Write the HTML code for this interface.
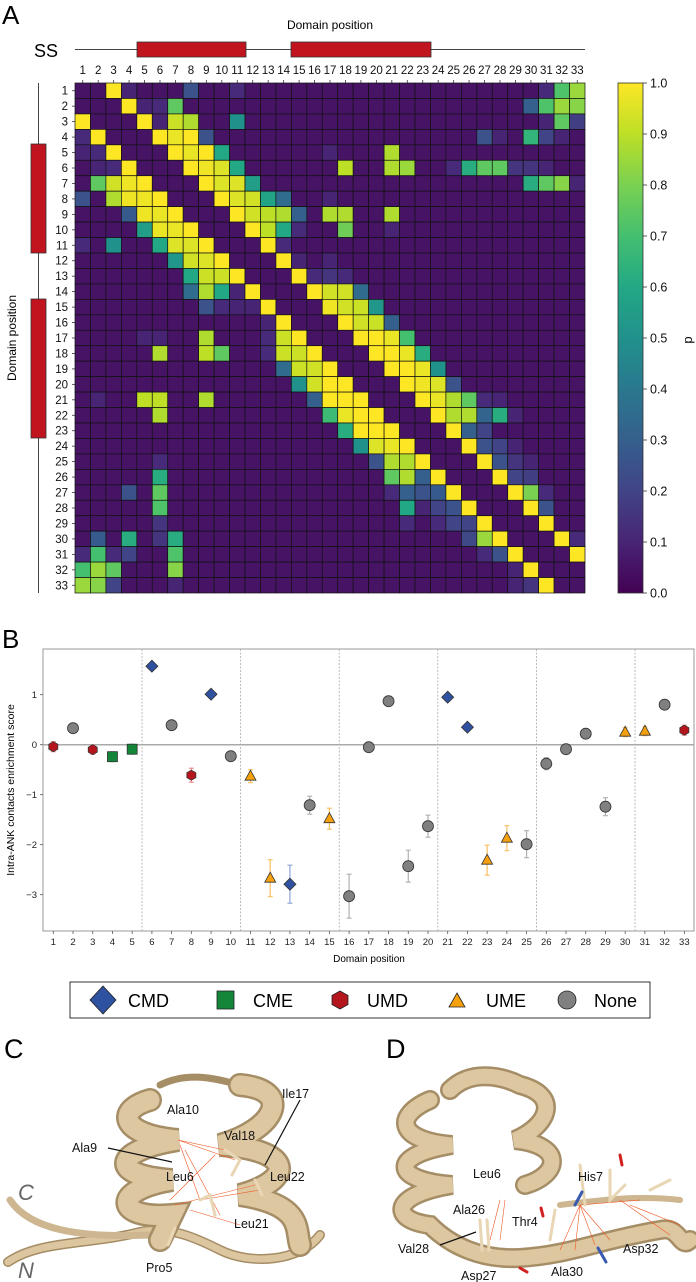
<!DOCTYPE html>
<html><head><meta charset="utf-8"><style>
html,body{margin:0;padding:0;background:#fff;}
svg{display:block;font-family:"Liberation Sans","DejaVu Sans",sans-serif;}
</style></head><body>
<svg id="fig" width="696" height="1282" viewBox="0 0 696 1282" xmlns="http://www.w3.org/2000/svg">
<text x="2" y="24" font-size="26">A</text>
<text x="330" y="29" font-size="12" text-anchor="middle">Domain position</text>
<text x="34" y="57" font-size="18">SS</text>
<g>
<line x1="75" y1="49.5" x2="585" y2="49.5" stroke="#444" stroke-width="1"/>
<rect x="137" y="42" width="109" height="15" fill="#c0141e" stroke="#333" stroke-width="0.8"/>
<rect x="291" y="42" width="140" height="15" fill="#c0141e" stroke="#333" stroke-width="0.8"/>
</g>
<g>
<line x1="38.5" y1="83" x2="38.5" y2="593" stroke="#444" stroke-width="1"/>
<rect x="31" y="144" width="15" height="109" fill="#c0141e" stroke="#333" stroke-width="0.8"/>
<rect x="31" y="299" width="15" height="139" fill="#c0141e" stroke="#333" stroke-width="0.8"/>
</g>
<text transform="translate(16,338) rotate(-90)" font-size="12" text-anchor="middle">Domain position</text>
<g id="heat"></g>
<g id="hticks"></g>
<defs><linearGradient id="vir" x1="0" y1="1" x2="0" y2="0"></linearGradient></defs>
<rect x="618" y="83" width="25" height="510" fill="url(#vir)" stroke="#333" stroke-width="0.8"/>
<g id="cbticks"></g>
<text transform="translate(692,340) rotate(-90)" font-size="13" text-anchor="middle">p</text>

<text x="2" y="648" font-size="26">B</text>
<g id="scatter"></g>
<text transform="translate(14,790) rotate(-90)" font-size="10.5" text-anchor="middle">Intra-ANK contacts enrichment score</text>
<text x="369" y="962" font-size="10" text-anchor="middle">Domain position</text>

<g>
<rect x="70" y="982" width="580" height="36" fill="#fff" stroke="#333" stroke-width="1"/>
<g><path d="M103 986 L116 1000 L103 1014 L90 1000 Z" fill="#2f52a0" stroke="#222" stroke-width="0.8"/><text x="128" y="1007" font-size="18">CMD</text></g>
<g><rect x="217" y="991" width="17" height="18" fill="#13863a" stroke="#222" stroke-width="0.8"/><text x="253" y="1007" font-size="18">CME</text></g>
<g><path d="M340 991 L348 995.5 L348 1004.5 L340 1009 L332 1004.5 L332 995.5 Z" fill="#b5161e" stroke="#222" stroke-width="0.8"/><text x="367" y="1007" font-size="18">UMD</text></g>
<g><path d="M457 993 L465 1007 L449 1007 Z" fill="#f5a10d" stroke="#222" stroke-width="0.8"/><text x="486" y="1007" font-size="18">UME</text></g>
<g><circle cx="567" cy="1000" r="9" fill="#808080" stroke="#222" stroke-width="0.8"/><text x="594" y="1007" font-size="18">None</text></g>
</g>

<text x="4" y="1058" font-size="27">C</text>
<text x="386" y="1058" font-size="27">D</text>
<g fill="none" stroke-linecap="round">
<path d="M8 1262 C40 1240 90 1245 140 1232 C170 1225 200 1240 220 1250 C250 1265 300 1262 320 1235" stroke="#a58d66" stroke-width="10"/>
<path d="M8 1262 C40 1240 90 1245 140 1232 C170 1225 200 1240 220 1250 C250 1265 300 1262 320 1235" stroke="#dcc6a0" stroke-width="7"/>
<path d="M10 1200 C30 1230 80 1238 150 1235" stroke="#cdb690" stroke-width="7"/>
<path d="M150 1100 C115 1110 120 1135 178 1140 C115 1150 105 1175 172 1180 C110 1190 115 1220 172 1215 L160 1240" stroke="#a58d66" stroke-width="24"/>
<path d="M150 1100 C115 1110 120 1135 178 1140 C115 1150 105 1175 172 1180 C110 1190 115 1220 172 1215 L160 1240" stroke="#ddc7a1" stroke-width="19"/>
<path d="M160 1085 C190 1070 220 1080 240 1085" stroke="#a58d66" stroke-width="7"/>
<path d="M240 1085 C295 1090 275 1130 220 1145 C295 1150 295 1180 240 1195 C305 1205 295 1230 300 1245" stroke="#a58d66" stroke-width="24"/>
<path d="M240 1085 C295 1090 275 1130 220 1145 C295 1150 295 1180 240 1195 C305 1205 295 1230 300 1245" stroke="#ddc7a1" stroke-width="19"/>
<g stroke="#f05a28" stroke-width="0.6"><path d="M178 1140 L225 1150 M178 1140 L235 1160 M180 1145 L200 1200 M200 1200 L260 1190 M190 1210 L240 1225 M170 1200 L215 1155 M185 1150 L220 1215 M175 1205 L255 1185"/></g>
<g stroke="#e8d6b4" stroke-width="3"><path d="M225 1150 L240 1160 L232 1175 M200 1200 L210 1195 L215 1215 M255 1180 L262 1195 M168 1245 L175 1228"/></g>
</g>
<g font-size="12.5" fill="#111">
<text x="167" y="1114">Ala10</text>
<text x="282" y="1098">Ile17</text>
<text x="224" y="1140">Val18</text>
<text x="72" y="1152">Ala9</text>
<text x="166" y="1181">Leu6</text>
<text x="270" y="1181">Leu22</text>
<text x="234" y="1228">Leu21</text>
<text x="146" y="1272">Pro5</text>
<text x="18" y="1200" font-size="22" font-style="italic" fill="#666">C</text>
<text x="18" y="1278" font-size="22" font-style="italic" fill="#666">N</text>
<path d="M108 1148 L172 1162 M300 1100 L265 1165" stroke="#111" stroke-width="1.2"/>
</g>
<g fill="none" stroke-linecap="round">
<path d="M430 1100 C395 1115 395 1140 452 1145 C390 1155 390 1180 452 1185 C390 1195 390 1220 430 1225 C450 1245 480 1260 520 1258 C570 1255 600 1240 660 1230 C680 1225 680 1250 690 1240" stroke="#a58d66" stroke-width="20"/>
<path d="M430 1100 C395 1115 395 1140 452 1145 C390 1155 390 1180 452 1185 C390 1195 390 1220 430 1225 C450 1245 480 1260 520 1258 C570 1255 600 1240 660 1230 C680 1225 680 1250 690 1240" stroke="#ddc7a1" stroke-width="15"/>
<path d="M450 1090 C470 1070 500 1075 520 1085 C560 1095 550 1125 515 1140 C565 1145 560 1175 525 1185" stroke="#a58d66" stroke-width="20"/>
<path d="M450 1090 C470 1070 500 1075 520 1085 C560 1095 550 1125 515 1140 C565 1145 560 1175 525 1185" stroke="#ddc7a1" stroke-width="15"/>
<path d="M560 1205 C600 1200 640 1195 680 1200" stroke="#cdb690" stroke-width="6"/>
<g stroke="#f05a28" stroke-width="0.6"><path d="M580 1205 L560 1250 M580 1205 L575 1250 M580 1205 L595 1245 M580 1205 L610 1240 M580 1205 L640 1200 M620 1200 L670 1235 M630 1205 L680 1225 M500 1200 L490 1240 M505 1200 L500 1240"/></g>
<g stroke="#e8d6b4" stroke-width="3"><path d="M480 1220 L482 1250 M487 1220 L489 1250 M580 1165 L585 1205 M610 1170 L610 1200 L625 1185 M555 1210 L550 1240 M650 1190 L670 1180"/></g>
<g stroke="#3a5ab0" stroke-width="3"><path d="M575 1205 L582 1192 M598 1248 L606 1262"/></g>
<g stroke="#d02020" stroke-width="3"><path d="M620 1155 L622 1165 M520 1268 L527 1272 M541 1208 L543 1216"/></g>
</g>
<g font-size="12.5" fill="#111">
<text x="473" y="1178">Leu6</text>
<text x="578" y="1181">His7</text>
<text x="512" y="1226">Thr4</text>
<text x="453" y="1214">Ala26</text>
<text x="398" y="1253">Val28</text>
<text x="461" y="1280">Asp27</text>
<text x="551" y="1276">Ala30</text>
<text x="623" y="1253">Asp32</text>
<path d="M440 1245 L476 1232" stroke="#111" stroke-width="1.2"/>
</g>
</svg>
<script>
const NS='http://www.w3.org/2000/svg';
// ---------- heatmap data ----------
const hmSize=33;
const hmBackground=0.05;
const hmRows=[
[[3,1],[4,.1],[8,.25],[11,.12],[31,.12],[32,.72],[33,.85]],
[[4,1],[5,.1],[6,.12],[7,.75],[30,.3],[31,.72],[32,.85],[33,.82]],
[[1,1],[5,1],[6,.1],[7,.92],[8,.88],[11,.5],[31,.1],[32,.75],[33,.18]],
[[1,.12],[2,1],[6,1],[7,.97],[8,1],[9,.25],[27,.25],[28,.1],[30,.65],[31,.2],[32,.1]],
[[1,.1],[2,.12],[3,1],[7,1],[8,.97],[9,1],[10,.6],[17,.1],[21,.88]],
[[2,.1],[3,.12],[4,1],[8,1],[9,.98],[10,.95],[11,.6],[18,.9],[21,.88],[22,.85],[25,.12],[26,.62],[27,.75],[28,.75],[29,.15],[30,.15],[31,.1]],
[[2,.75],[3,.93],[4,.98],[5,1],[9,1],[10,.95],[11,.95],[12,.55],[30,.62],[31,.75],[32,.82],[33,.1]],
[[1,.25],[3,.88],[4,.98],[5,.98],[6,1],[10,1],[11,.95],[12,.93],[13,.58],[14,.35],[17,.1]],
[[4,.28],[5,.98],[6,.97],[7,1],[11,1],[12,.93],[13,.9],[14,.88],[15,.3],[17,.88],[18,.88],[21,.88]],
[[5,.55],[6,.97],[7,.97],[8,1],[12,1],[13,.9],[14,.6],[15,.12],[18,.78],[21,.1]],
[[1,.12],[3,.5],[6,.6],[7,.95],[8,.95],[9,1],[13,1],[14,.12]],
[[7,.52],[8,.93],[9,.95],[10,1],[14,1],[15,.1],[17,.1]],
[[8,.6],[9,.92],[10,.92],[11,1],[15,1],[16,.12],[17,.15],[18,.12]],
[[8,.35],[9,.88],[10,.6],[11,.1],[12,1],[16,1],[17,.93],[18,.93],[19,.35]],
[[9,.25],[10,.12],[11,.1],[12,.1],[13,1],[17,.98],[18,.93],[19,.92],[20,.52]],
[[13,.1],[14,1],[18,1],[19,.93],[20,.92],[21,.3]],
[[5,.1],[6,.1],[9,.88],[13,.12],[14,.92],[15,1],[19,1],[20,1],[21,.97],[22,.7]],
[[6,.88],[9,.9],[10,.75],[13,.12],[14,.92],[15,.92],[16,1],[20,1],[21,1],[22,.97],[23,.62]],
[[14,.35],[15,.92],[16,.93],[17,1],[21,1],[22,1],[23,.97],[24,.5]],
[[15,.5],[16,.93],[17,1],[18,1],[22,1],[23,.98],[24,.95],[25,.25]],
[[2,.1],[5,.9],[6,.9],[9,.88],[16,.3],[17,1],[18,1],[19,1],[23,1],[24,.97],[25,.88],[26,.75],[27,.12],[28,.1]],
[[6,.88],[17,.68],[18,.97],[19,1],[20,1],[24,1],[25,.88],[26,.88],[27,.32],[28,.62],[29,.1]],
[[18,.62],[19,1],[20,1],[21,1],[25,1],[26,.3],[27,.2]],
[[19,.5],[20,.95],[21,.97],[22,1],[26,1],[27,.25],[28,.2],[29,.1]],
[[6,.12],[20,.25],[21,.88],[22,.88],[23,1],[27,1],[28,.25],[29,.15],[30,.1]],
[[6,.62],[21,.75],[22,.88],[23,.3],[24,1],[28,1],[29,.2],[30,.18]],
[[4,.25],[6,.75],[21,.12],[22,.3],[23,.25],[24,.28],[25,1],[29,1],[30,.8],[31,.12]],
[[6,.72],[22,.6],[23,.1],[24,.2],[25,.25],[26,1],[30,1],[31,.25]],
[[6,.15],[22,.12],[24,.12],[25,.2],[26,.2],[27,1],[31,1]],
[[2,.28],[4,.62],[6,.15],[7,.62],[26,.22],[27,.85],[28,1],[32,1],[33,.12]],
[[1,.12],[2,.7],[3,.12],[4,.2],[7,.72],[27,.12],[28,.25],[29,1],[33,1]],
[[1,.7],[2,.85],[3,.75],[7,.82],[29,.1],[30,1]],
[[1,.85],[2,.82],[3,.2],[7,.1],[29,.1],[30,.15],[31,1]]
];
const cbTicks=[0.0,0.1,0.2,0.3,0.4,0.5,0.6,0.7,0.8,0.9,1.0];
// ---------- scatter data ----------
const scPositions=[1,2,3,4,5,6,7,8,9,10,11,12,13,14,15,16,17,18,19,20,21,22,23,24,25,26,27,28,29,30,31,32,33];
const scValues=[-0.04,0.33,-0.1,-0.24,-0.09,1.57,0.39,-0.61,1.01,-0.23,-0.63,-2.67,-2.79,-1.21,-1.48,-3.03,-0.05,0.87,-2.43,-1.63,0.95,0.35,-2.31,-1.87,-1.99,-0.38,-0.09,0.22,-1.24,0.25,0.27,0.8,0.29];
const scErrors=[0.1,0.05,0.09,0.1,0.1,0.03,0.06,0.14,0.03,0.1,0.13,0.37,0.38,0.18,0.21,0.44,0.08,0.03,0.32,0.22,0.03,0.03,0.3,0.25,0.27,0.12,0.08,0.07,0.18,0.09,0.09,0.03,0.1];
const scTypes=['UMD','None','UMD','CME','CME','CMD','None','UMD','CMD','None','UME','UME','CMD','None','UME','None','None','None','None','None','CMD','CMD','UME','UME','None','None','None','None','None','UME','UME','None','UMD'];
const scYTicks=[-3,-2,-1,0,1];
const scDividers=[5.5,10.5,15.5,20.5,25.5,30.5];

const vir=[[0,'#440154'],[0.1,'#482475'],[0.2,'#414487'],[0.3,'#355f8d'],[0.4,'#2a788e'],[0.5,'#21918c'],[0.6,'#22a884'],[0.7,'#44bf70'],[0.8,'#7ad151'],[0.9,'#bddf26'],[1,'#fde725']];
function hx(h){return [1,3,5].map(i=>parseInt(h.substr(i,2),16));}
function viridis(v){v=Math.max(0,Math.min(1,v));for(let i=1;i<vir.length;i++){if(v<=vir[i][0]){const a=hx(vir[i-1][1]),b=hx(vir[i][1]);const t=(v-vir[i-1][0])/(vir[i][0]-vir[i-1][0]);return 'rgb('+a.map((x,k)=>Math.round(x+(b[k]-x)*t)).join(',')+')';}}return vir[vir.length-1][1];}
function mk(tag,attrs,parent){const e=document.createElementNS(NS,tag);for(const k in attrs)e.setAttribute(k,attrs[k]);parent.appendChild(e);return e;}

const hx0=75,hy0=83,hw=510;const cell=hw/hmSize;
const colX=c=>hx0+cell*(c-1);
const rowY=r=>hy0+cell*(r-1);
const heat=document.getElementById('heat');
const mat=[];for(let r=0;r<hmSize;r++){mat.push(new Array(hmSize).fill(hmBackground));}
hmRows.forEach((row,ri)=>row.forEach(([c,v])=>{mat[ri][c-1]=v;}));
for(let r=1;r<=hmSize;r++)for(let c=1;c<=hmSize;c++){
 const e=mk('rect',{x:colX(c),y:rowY(r),width:cell,height:cell,fill:viridis(mat[r-1][c-1]),stroke:'#111','stroke-width':0.7},heat);
 
 
}
const ht=document.getElementById('hticks');
for(let i=1;i<=hmSize;i++){
 const cx=colX(i)+cell/2, cy=rowY(i)+cell/2;
 const t=mk('text',{x:cx,y:74,'font-size':11.5,'text-anchor':'middle',fill:'#111'},ht);t.textContent=i;
 
 
 mk('line',{x1:cx,y1:80,x2:cx,y2:83,stroke:'#333','stroke-width':0.8},ht);
 const t2=mk('text',{x:68,y:cy+4,'font-size':11.5,'text-anchor':'end',fill:'#111'},ht);t2.textContent=i;
 
 
 mk('line',{x1:72,y1:cy,x2:75,y2:cy,stroke:'#333','stroke-width':0.8},ht);
}
const grad=document.getElementById('vir');
vir.forEach(([o,c])=>mk('stop',{offset:o,'stop-color':c},grad));
const cbY=v=>593-510*v;
const cbt=document.getElementById('cbticks');
cbTicks.forEach(v=>{
 mk('line',{x1:643,y1:cbY(v),x2:647,y2:cbY(v),stroke:'#333','stroke-width':0.8},cbt);
 const t=mk('text',{x:650,y:cbY(v)+4.5,'font-size':12.5,fill:'#111'},cbt);t.textContent=v.toFixed(1);
 
 
});

const sc=document.getElementById('scatter');
const px0=43,px1=694,py0=649,py1=931;
const sx=p=>53.3+(p-1)*19.72;
const sy=v=>744.7-50*v;
mk('rect',{x:px0,y:py0,width:px1-px0,height:py1-py0,fill:'none',stroke:'#999','stroke-width':1},sc);
mk('line',{x1:px0,y1:sy(0),x2:px1,y2:sy(0),stroke:'#aaa','stroke-width':1.5},sc);
scDividers.forEach(d=>{const l=mk('line',{x1:sx(d),y1:py0,x2:sx(d),y2:py1,stroke:'#aaa','stroke-width':0.8,'stroke-dasharray':'2,1.5'},sc);
 
 });
scYTicks.forEach(v=>{mk('line',{x1:px0-3,y1:sy(v),x2:px0,y2:sy(v),stroke:'#555','stroke-width':0.8},sc);
 const t=mk('text',{x:px0-6,y:sy(v)+3.5,'font-size':9.5,'text-anchor':'end',fill:'#222'},sc);t.textContent=(v<0?'\u2212'+(-v):v);
 
 });
scPositions.forEach(p=>{mk('line',{x1:sx(p),y1:py1,x2:sx(p),y2:py1+3,stroke:'#555','stroke-width':0.8},sc);
 const t=mk('text',{x:sx(p),y:py1+14,'font-size':9.5,'text-anchor':'middle',fill:'#222'},sc);t.textContent=p;
 
 });
const fills={CMD:'#2f52a0',CME:'#13863a',UMD:'#b5161e',UME:'#f5a10d',None:'#808080'};
const errc={CMD:'#8fa3d8',CME:'#7cc38f',UMD:'#e88a8a',UME:'#f7c060',None:'#b0b0b0'};
scPositions.forEach((p,i)=>{
 const x=sx(p),y=sy(scValues[i]),e=scErrors[i]*50,tp=scTypes[i];
 const g=mk('g',{},sc);
 
 
 mk('path',{d:`M${x} ${y-e}V${y+e}M${x-2.5} ${y-e}H${x+2.5}M${x-2.5} ${y+e}H${x+2.5}`,stroke:errc[tp],'stroke-width':1.2,fill:'none'},g);
 const st={fill:fills[tp],stroke:'#333','stroke-width':0.8};
 if(tp==='CMD')mk('path',Object.assign({d:`M${x} ${y-6}L${x+6} ${y}L${x} ${y+6}L${x-6} ${y}Z`},st),g);
 else if(tp==='CME')mk('rect',Object.assign({x:x-5,y:y-5,width:10,height:10},st),g);
 else if(tp==='UMD')mk('path',Object.assign({d:`M${x} ${y-5}L${x+4.5} ${y-2.5}L${x+4.5} ${y+2.5}L${x} ${y+5}L${x-4.5} ${y+2.5}L${x-4.5} ${y-2.5}Z`},st),g);
 else if(tp==='UME')mk('path',Object.assign({d:`M${x} ${y-6}L${x+5.5} ${y+4}L${x-5.5} ${y+4}Z`},st),g);
 else mk('circle',Object.assign({cx:x,cy:y,r:5.5},st),g);
});
</script>
</body></html>
